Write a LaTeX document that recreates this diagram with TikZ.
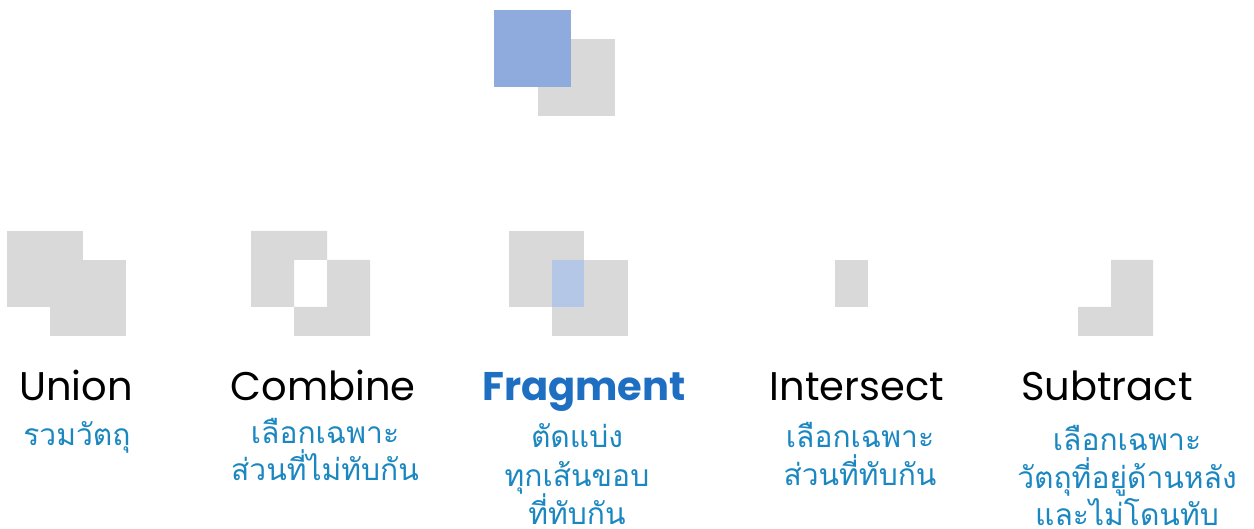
\documentclass[tikz,border=0pt]{standalone}
\usepackage{fontspec}
\setmainfont{Poppins}
\newfontfamily\thaifont[Script=Thai]{Loma}
\definecolor{boxgray}{HTML}{D9D9D9}
\definecolor{topblue}{HTML}{8FAADC}
\definecolor{lightblue}{HTML}{B4C7E7}
\definecolor{fragblue}{HTML}{1E6FC2}
\definecolor{thaiblue}{HTML}{1B87C0}
\begin{document}
\begin{tikzpicture}[x=1pt,y=-1pt,
  title/.style={font=\fontsize{40}{48}\selectfont, anchor=base, inner sep=0pt, text=black},
  thai/.style={font=\thaifont\fontsize{30}{36}\selectfont, text=thaiblue, anchor=base, inner sep=0pt, text depth=0pt}]
\useasboundingbox (0,0) rectangle (1254,529);
% top example
\fill[boxgray] (538,39) rectangle (615,116);
\fill[topblue] (494,10) rectangle (571,87);
% union
\fill[boxgray] (7,231) rectangle (83,307);
\fill[boxgray] (50,260) rectangle (126,336);
% combine
\fill[boxgray, even odd rule] (251,231) rectangle (327,307) (294,260) rectangle (370,336);
% fragment
\fill[boxgray] (509,231) rectangle (584,307);
\fill[boxgray] (552,260) rectangle (628,336);
\fill[lightblue] (552,260) rectangle (584,307);
% intersect
\fill[boxgray] (835,260) rectangle (868,307);
% subtract
\fill[boxgray] (1078,307) -- (1111,307) -- (1111,260) -- (1153,260) -- (1153,336) -- (1078,336) -- cycle;
% titles
\node[title] (tunion) at (76,401) {Union};
\node[title] (tcombine) at (323,401) {Combine};
\node[title, text=fragblue, font=\fontsize{40}{48}\selectfont\bfseries] (tfragment) at (584,401) {Fragment};
\node[title] (tintersect) at (857,401) {Intersect};
\node[title] (tsubtract) at (1107,401) {Subtract};
% thai descriptions
\node[thai] (union1) at (77,446) {รวมวัตถุ};
\node[thai] (combine1) at (325,443) {เลือกเฉพาะ};
\node[thai] (combine2) at (325,480) {ส่วนที่ไม่ทับกัน};
\node[thai] (frag1) at (577,447) {ตัดแบ่ง};
\node[thai] (frag2) at (577,486) {ทุกเส้นขอบ};
\node[thai] (frag3) at (577,524) {ที่ทับกัน};
\node[thai] (inter1) at (860,447) {เลือกเฉพาะ};
\node[thai] (inter2) at (860,485) {ส่วนที่ทับกัน};
\node[thai] (sub1) at (1127,450) {เลือกเฉพาะ};
\node[thai] (sub2) at (1127,488) {วัตถุที่อยู่ด้านหลัง};
\node[thai] (sub3) at (1127,525) {และไม่โดนทับ};
\end{tikzpicture}
\end{document}
